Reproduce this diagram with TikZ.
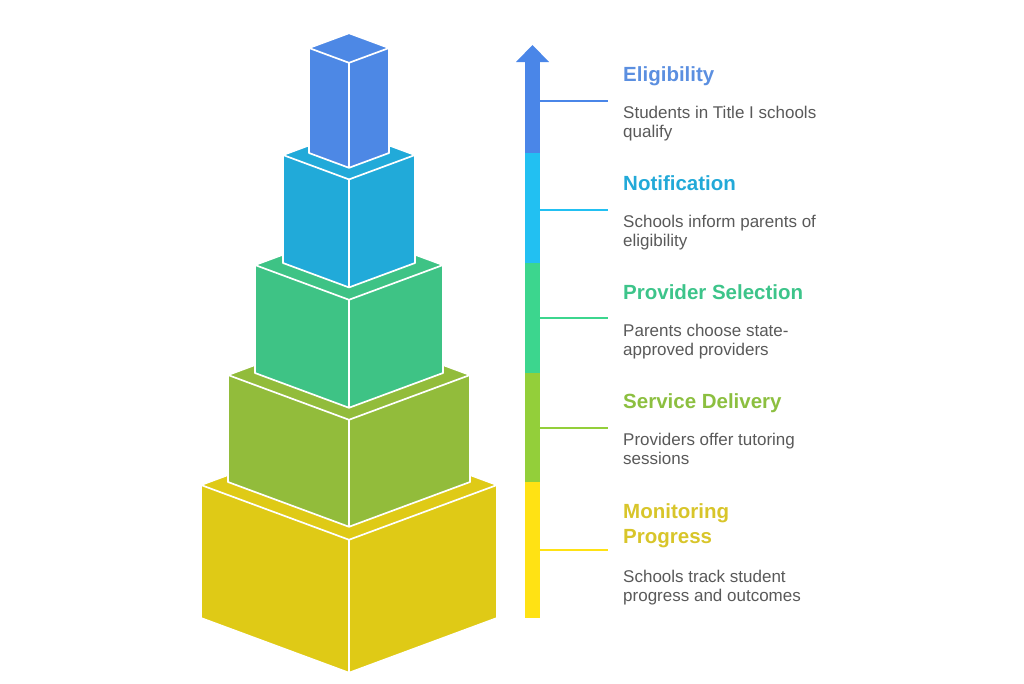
\documentclass[tikz,border=0pt]{standalone}
\usepackage{fontspec}
\setmainfont{Liberation Sans}
\definecolor{boxA}{HTML}{4D88E5}
\definecolor{boxB}{HTML}{21AAD9}
\definecolor{boxC}{HTML}{3EC385}
\definecolor{boxD}{HTML}{92BC3B}
\definecolor{boxE}{HTML}{DFCA16}
\definecolor{barA}{HTML}{4A86E8}
\definecolor{barB}{HTML}{22C0F2}
\definecolor{barC}{HTML}{3CD68E}
\definecolor{barD}{HTML}{93CF3A}
\definecolor{barE}{HTML}{FFE214}
\definecolor{ttlA}{HTML}{5B8FE0}
\definecolor{ttlB}{HTML}{22A9D8}
\definecolor{ttlC}{HTML}{3DC48A}
\definecolor{ttlD}{HTML}{8CBF40}
\definecolor{ttlE}{HTML}{D8C52A}
\definecolor{descgray}{HTML}{595959}
\tikzset{
  edge/.style={draw=white, line width=1.7pt, line join=round},
  tickline/.style={line width=1.5pt},
  ttl/.style={font=\fontsize{20.5}{25}\selectfont\bfseries, inner sep=0pt, anchor=base west, align=left},
  desc/.style={font=\fontsize{17}{19}\selectfont, text=descgray, inner sep=0pt, anchor=base west, align=left}
}
\newcommand\cubeblock[5]{%
  \pgfmathsetmacro\slp{0.37*#2}
  \fill[#5] ({#1-#2},{#3}) -- ({#1},{#3-\slp}) -- ({#1+#2},{#3}) -- ({#1+#2},{#3+#4}) -- ({#1},{#3+\slp+#4}) -- ({#1-#2},{#3+#4}) -- cycle;
  \draw[edge] ({#1-#2},{#3}) -- ({#1},{#3-\slp}) -- ({#1+#2},{#3}) -- ({#1+#2},{#3+#4}) -- ({#1},{#3+\slp+#4}) -- ({#1-#2},{#3+#4}) -- cycle;
  \draw[edge] ({#1-#2},{#3}) -- ({#1},{#3+\slp}) -- ({#1+#2},{#3});
  \draw[edge] ({#1},{#3+\slp}) -- ({#1},{#3+\slp+#4});
}
\begin{document}
\begin{tikzpicture}[x=1pt,y=-1pt]
\useasboundingbox (0,0) rectangle (1024,683);
% stacked blocks
\cubeblock{349}{148}{485}{133}{boxE}
\cubeblock{349}{121}{375}{107}{boxD}
\cubeblock{349}{94}{265}{108}{boxC}
\cubeblock{349}{66}{155}{108}{boxB}
\cubeblock{349}{40}{48}{105}{boxA}
% arrow bar
\fill[barE] (525,482) rectangle (540,618);
\fill[barD] (525,373) rectangle (540,482);
\fill[barC] (525,263) rectangle (540,373);
\fill[barB] (525,153) rectangle (540,263);
\fill[barA] (525,61) rectangle (540,153);
\fill[barA] (516,62) -- (532.5,45) -- (549,62) -- cycle;
% ticks
\coordinate (a1) at (540,101); \coordinate (b1) at (608,101);
\coordinate (a2) at (540,210); \coordinate (b2) at (608,210);
\coordinate (a3) at (540,318); \coordinate (b3) at (608,318);
\coordinate (a4) at (540,428); \coordinate (b4) at (608,428);
\coordinate (a5) at (540,550); \coordinate (b5) at (608,550);
\draw[tickline, barA] (a1) -- (b1);
\draw[tickline, barB] (a2) -- (b2);
\draw[tickline, barC] (a3) -- (b3);
\draw[tickline, barD] (a4) -- (b4);
\draw[tickline, barE] (a5) -- (b5);
% labels
\node[ttl, text=ttlA] (h1) at (623,81) {Eligibility};
\node[desc] (d1) at (623,137) {Students in Title I schools\\qualify};
\node[ttl, text=ttlB] (h2) at (623,190) {Notification};
\node[desc] (d2) at (623,246) {Schools inform parents of\\eligibility};
\node[ttl, text=ttlC] (h3) at (623,299) {Provider Selection};
\node[desc] (d3) at (623,355) {Parents choose state-\\approved providers};
\node[ttl, text=ttlD] (h4) at (623,408) {Service Delivery};
\node[desc] (d4) at (623,464) {Providers offer tutoring\\sessions};
\node[ttl, text=ttlE] (h5) at (623,543) {Monitoring\\Progress};
\node[desc] (d5) at (623,601) {Schools track student\\progress and outcomes};
\end{tikzpicture}
\end{document}
